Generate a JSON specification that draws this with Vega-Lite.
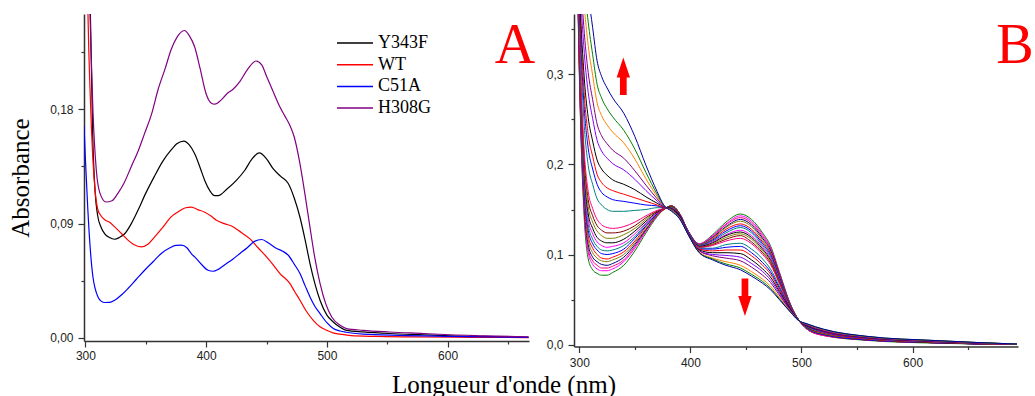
{
"$schema": "https://vega.github.io/schema/vega-lite/v6.json",
"padding": {"left": 8, "top": 14, "right": 0, "bottom": 0},
"bounds": "flush",
"spacing": 45,
"resolve": {"scale": {"color": "independent"}, "legend": {"color": "independent"}},
"config": {
  "view": {"stroke": null},
  "axis": {"grid": false, "labelFont": "Liberation Sans", "labelFontSize": 12, "labelColor": "#222222", "domainColor": "#333333", "domainWidth": 1.5, "tickColor": "#333333", "tickWidth": 1.2, "labelPadding": 3, "labelFlush": false, "labelOverlap": false, "titleFont": "Liberation Serif", "titleFontWeight": "normal", "titleFontSize": 25, "titleColor": "#000000"}
},
"datasets": {
"a": [
{"s":"Y343F","w":299,"a":0.6},{"s":"Y343F","w":302,"a":0.4},{"s":"Y343F","w":304,"a":0.26},{"s":"Y343F","w":306,"a":0.16},{"s":"Y343F","w":308,"a":0.115},{"s":"Y343F","w":310,"a":0.097},{"s":"Y343F","w":313,"a":0.087},{"s":"Y343F","w":316,"a":0.082},{"s":"Y343F","w":320,"a":0.079},{"s":"Y343F","w":324,"a":0.0777},{"s":"Y343F","w":328,"a":0.079},{"s":"Y343F","w":332.5,"a":0.082},{"s":"Y343F","w":338,"a":0.09},{"s":"Y343F","w":343.5,"a":0.1005},{"s":"Y343F","w":350,"a":0.114},{"s":"Y343F","w":357,"a":0.127},{"s":"Y343F","w":364,"a":0.139},{"s":"Y343F","w":371,"a":0.148},{"s":"Y343F","w":376,"a":0.153},{"s":"Y343F","w":381.5,"a":0.155},{"s":"Y343F","w":386,"a":0.152},{"s":"Y343F","w":390.5,"a":0.145},{"s":"Y343F","w":395,"a":0.134},{"s":"Y343F","w":398.8,"a":0.124},{"s":"Y343F","w":403,"a":0.116},{"s":"Y343F","w":407,"a":0.112},{"s":"Y343F","w":410,"a":0.112},{"s":"Y343F","w":417,"a":0.117},{"s":"Y343F","w":425,"a":0.124},{"s":"Y343F","w":432,"a":0.132},{"s":"Y343F","w":438,"a":0.141},{"s":"Y343F","w":444,"a":0.1457},{"s":"Y343F","w":450,"a":0.141},{"s":"Y343F","w":455.6,"a":0.133},{"s":"Y343F","w":462,"a":0.127},{"s":"Y343F","w":468,"a":0.1216},{"s":"Y343F","w":473,"a":0.11},{"s":"Y343F","w":477.7,"a":0.095},{"s":"Y343F","w":482,"a":0.077},{"s":"Y343F","w":486,"a":0.0586},{"s":"Y343F","w":490,"a":0.043},{"s":"Y343F","w":494.3,"a":0.0297},{"s":"Y343F","w":500,"a":0.018},{"s":"Y343F","w":505.3,"a":0.0126},{"s":"Y343F","w":510,"a":0.009},{"s":"Y343F","w":516.4,"a":0.006},{"s":"Y343F","w":530,"a":0.0048},{"s":"Y343F","w":552,"a":0.0035},{"s":"Y343F","w":580,"a":0.0025},{"s":"Y343F","w":602,"a":0.0017},{"s":"Y343F","w":630,"a":0.0012},{"s":"Y343F","w":667,"a":0.0005},
{"s":"WT","w":299,"a":0.5},{"s":"WT","w":301,"a":0.33},{"s":"WT","w":302,"a":0.26},{"s":"WT","w":304,"a":0.19},{"s":"WT","w":306.2,"a":0.14},{"s":"WT","w":308,"a":0.116},{"s":"WT","w":310.4,"a":0.1005},{"s":"WT","w":313,"a":0.096},{"s":"WT","w":316,"a":0.093},{"s":"WT","w":320,"a":0.091},{"s":"WT","w":324.2,"a":0.0874},{"s":"WT","w":330,"a":0.082},{"s":"WT","w":335.2,"a":0.077},{"s":"WT","w":340,"a":0.0735},{"s":"WT","w":346.2,"a":0.0717},{"s":"WT","w":352,"a":0.074},{"s":"WT","w":357.3,"a":0.0795},{"s":"WT","w":364,"a":0.087},{"s":"WT","w":371,"a":0.0953},{"s":"WT","w":378,"a":0.1},{"s":"WT","w":383,"a":0.1025},{"s":"WT","w":387.7,"a":0.103},{"s":"WT","w":393,"a":0.101},{"s":"WT","w":398.8,"a":0.099},{"s":"WT","w":404,"a":0.096},{"s":"WT","w":408.5,"a":0.0927},{"s":"WT","w":415,"a":0.09},{"s":"WT","w":422.5,"a":0.0874},{"s":"WT","w":429,"a":0.083},{"s":"WT","w":436.3,"a":0.078},{"s":"WT","w":443,"a":0.071},{"s":"WT","w":450,"a":0.0638},{"s":"WT","w":456,"a":0.057},{"s":"WT","w":461.1,"a":0.0507},{"s":"WT","w":469.4,"a":0.0428},{"s":"WT","w":473,"a":0.037},{"s":"WT","w":477.7,"a":0.0297},{"s":"WT","w":483,"a":0.021},{"s":"WT","w":488.7,"a":0.0139},{"s":"WT","w":494,"a":0.009},{"s":"WT","w":499.8,"a":0.006},{"s":"WT","w":505,"a":0.004},{"s":"WT","w":510.9,"a":0.003},{"s":"WT","w":520,"a":0.0018},{"s":"WT","w":540,"a":0.0012},{"s":"WT","w":570,"a":0.0008},{"s":"WT","w":620,"a":0.0005},{"s":"WT","w":667,"a":0.0003},
{"s":"C51A","w":298.8,"a":0.167},{"s":"C51A","w":300,"a":0.14},{"s":"C51A","w":302,"a":0.1005},{"s":"C51A","w":304,"a":0.07},{"s":"C51A","w":306.2,"a":0.048},{"s":"C51A","w":308,"a":0.039},{"s":"C51A","w":310.4,"a":0.0323},{"s":"C51A","w":313,"a":0.029},{"s":"C51A","w":316,"a":0.0279},{"s":"C51A","w":320,"a":0.028},{"s":"C51A","w":324.2,"a":0.0297},{"s":"C51A","w":330,"a":0.034},{"s":"C51A","w":335.2,"a":0.0389},{"s":"C51A","w":342,"a":0.046},{"s":"C51A","w":349,"a":0.0533},{"s":"C51A","w":356,"a":0.06},{"s":"C51A","w":362.8,"a":0.0665},{"s":"C51A","w":370,"a":0.071},{"s":"C51A","w":375,"a":0.0728},{"s":"C51A","w":379.4,"a":0.073},{"s":"C51A","w":384,"a":0.071},{"s":"C51A","w":388,"a":0.066},{"s":"C51A","w":390.5,"a":0.0638},{"s":"C51A","w":396,"a":0.058},{"s":"C51A","w":401.5,"a":0.0533},{"s":"C51A","w":405.9,"a":0.0525},{"s":"C51A","w":410,"a":0.054},{"s":"C51A","w":416,"a":0.058},{"s":"C51A","w":422,"a":0.062},{"s":"C51A","w":428,"a":0.0665},{"s":"C51A","w":434,"a":0.071},{"s":"C51A","w":440,"a":0.076},{"s":"C51A","w":446,"a":0.0775},{"s":"C51A","w":452,"a":0.0745},{"s":"C51A","w":458.4,"a":0.0704},{"s":"C51A","w":463,"a":0.0685},{"s":"C51A","w":468,"a":0.0651},{"s":"C51A","w":473,"a":0.058},{"s":"C51A","w":477.7,"a":0.0507},{"s":"C51A","w":482,"a":0.041},{"s":"C51A","w":486,"a":0.0323},{"s":"C51A","w":490,"a":0.025},{"s":"C51A","w":494.3,"a":0.0192},{"s":"C51A","w":500,"a":0.012},{"s":"C51A","w":505.3,"a":0.0074},{"s":"C51A","w":511,"a":0.0055},{"s":"C51A","w":516,"a":0.0045},{"s":"C51A","w":530,"a":0.003},{"s":"C51A","w":560,"a":0.002},{"s":"C51A","w":600,"a":0.0013},{"s":"C51A","w":667,"a":0.0005},
{"s":"H308G","w":299,"a":0.7},{"s":"H308G","w":302,"a":0.4},{"s":"H308G","w":303,"a":0.3},{"s":"H308G","w":304.5,"a":0.23},{"s":"H308G","w":306.2,"a":0.179},{"s":"H308G","w":309,"a":0.132},{"s":"H308G","w":312,"a":0.114},{"s":"H308G","w":317,"a":0.107},{"s":"H308G","w":322,"a":0.108},{"s":"H308G","w":327,"a":0.114},{"s":"H308G","w":332,"a":0.122},{"s":"H308G","w":338,"a":0.135},{"s":"H308G","w":344,"a":0.148},{"s":"H308G","w":349,"a":0.161},{"s":"H308G","w":355,"a":0.177},{"s":"H308G","w":360,"a":0.195},{"s":"H308G","w":366,"a":0.212},{"s":"H308G","w":371,"a":0.227},{"s":"H308G","w":376,"a":0.237},{"s":"H308G","w":382,"a":0.242},{"s":"H308G","w":386,"a":0.238},{"s":"H308G","w":390.5,"a":0.229},{"s":"H308G","w":395,"a":0.212},{"s":"H308G","w":400,"a":0.192},{"s":"H308G","w":404,"a":0.185},{"s":"H308G","w":407.3,"a":0.184},{"s":"H308G","w":412,"a":0.187},{"s":"H308G","w":417,"a":0.192},{"s":"H308G","w":422.5,"a":0.196},{"s":"H308G","w":428,"a":0.202},{"s":"H308G","w":434,"a":0.211},{"s":"H308G","w":441.3,"a":0.218},{"s":"H308G","w":446,"a":0.215},{"s":"H308G","w":450,"a":0.206},{"s":"H308G","w":455,"a":0.195},{"s":"H308G","w":461,"a":0.182},{"s":"H308G","w":465,"a":0.175},{"s":"H308G","w":469,"a":0.168},{"s":"H308G","w":473,"a":0.158},{"s":"H308G","w":477.7,"a":0.137},{"s":"H308G","w":482,"a":0.112},{"s":"H308G","w":486,"a":0.087},{"s":"H308G","w":490,"a":0.063},{"s":"H308G","w":494.3,"a":0.043},{"s":"H308G","w":499,"a":0.027},{"s":"H308G","w":504,"a":0.0165},{"s":"H308G","w":511,"a":0.01},{"s":"H308G","w":516.4,"a":0.0074},{"s":"H308G","w":530,"a":0.006},{"s":"H308G","w":552,"a":0.0047},{"s":"H308G","w":580,"a":0.0035},{"s":"H308G","w":602,"a":0.0025},{"s":"H308G","w":630,"a":0.0017},{"s":"H308G","w":667,"a":0.0008}
],
"b": [
{"k":1,"w":296,"a":0.6},{"k":1,"w":300,"a":0.3},{"k":1,"w":304,"a":0.15},{"k":1,"w":308,"a":0.095},{"k":1,"w":312,"a":0.083},{"k":1,"w":316,"a":0.079},{"k":1,"w":320,"a":0.077},{"k":1,"w":325,"a":0.077},{"k":1,"w":330,"a":0.08},{"k":1,"w":340,"a":0.088},{"k":1,"w":350,"a":0.104},{"k":1,"w":360,"a":0.124},{"k":1,"w":370,"a":0.142},{"k":1,"w":376,"a":0.15},{"k":1,"w":383,"a":0.154},{"k":1,"w":390,"a":0.146},{"k":1,"w":398,"a":0.126},{"k":1,"w":408,"a":0.112},{"k":1,"w":420,"a":0.122},{"k":1,"w":432,"a":0.136},{"k":1,"w":445,"a":0.145},{"k":1,"w":455,"a":0.139},{"k":1,"w":465,"a":0.124},{"k":1,"w":472,"a":0.11},{"k":1,"w":480,"a":0.081},{"k":1,"w":490,"a":0.045},{"k":1,"w":497,"a":0.028},{"k":1,"w":505,"a":0.017},{"k":1,"w":520,"a":0.01},{"k":1,"w":560,"a":0.0045},{"k":1,"w":620,"a":0.0015},{"k":1,"w":694,"a":0},
{"k":2,"w":296,"a":0.601},{"k":2,"w":300,"a":0.304},{"k":2,"w":304,"a":0.156},{"k":2,"w":308,"a":0.102},{"k":2,"w":312,"a":0.089},{"k":2,"w":316,"a":0.084},{"k":2,"w":320,"a":0.082},{"k":2,"w":325,"a":0.082},{"k":2,"w":330,"a":0.084},{"k":2,"w":340,"a":0.092},{"k":2,"w":350,"a":0.107},{"k":2,"w":360,"a":0.126},{"k":2,"w":370,"a":0.143},{"k":2,"w":376,"a":0.15},{"k":2,"w":383,"a":0.154},{"k":2,"w":390,"a":0.146},{"k":2,"w":398,"a":0.126},{"k":2,"w":408,"a":0.112},{"k":2,"w":420,"a":0.121},{"k":2,"w":432,"a":0.134},{"k":2,"w":445,"a":0.143},{"k":2,"w":455,"a":0.137},{"k":2,"w":465,"a":0.122},{"k":2,"w":472,"a":0.108},{"k":2,"w":480,"a":0.08},{"k":2,"w":490,"a":0.045},{"k":2,"w":497,"a":0.028},{"k":2,"w":505,"a":0.017},{"k":2,"w":520,"a":0.01},{"k":2,"w":560,"a":0.005},{"k":2,"w":620,"a":0.002},{"k":2,"w":694,"a":0},
{"k":3,"w":296,"a":0.602},{"k":3,"w":300,"a":0.307},{"k":3,"w":304,"a":0.161},{"k":3,"w":308,"a":0.106},{"k":3,"w":312,"a":0.093},{"k":3,"w":316,"a":0.088},{"k":3,"w":320,"a":0.085},{"k":3,"w":325,"a":0.085},{"k":3,"w":330,"a":0.087},{"k":3,"w":340,"a":0.094},{"k":3,"w":350,"a":0.109},{"k":3,"w":360,"a":0.127},{"k":3,"w":370,"a":0.143},{"k":3,"w":376,"a":0.15},{"k":3,"w":383,"a":0.154},{"k":3,"w":390,"a":0.146},{"k":3,"w":398,"a":0.126},{"k":3,"w":408,"a":0.111},{"k":3,"w":420,"a":0.12},{"k":3,"w":432,"a":0.133},{"k":3,"w":445,"a":0.141},{"k":3,"w":455,"a":0.135},{"k":3,"w":465,"a":0.12},{"k":3,"w":472,"a":0.107},{"k":3,"w":480,"a":0.079},{"k":3,"w":490,"a":0.044},{"k":3,"w":497,"a":0.028},{"k":3,"w":505,"a":0.017},{"k":3,"w":520,"a":0.01},{"k":3,"w":560,"a":0.005},{"k":3,"w":620,"a":0.002},{"k":3,"w":694,"a":0},
{"k":4,"w":296,"a":0.603},{"k":4,"w":300,"a":0.311},{"k":4,"w":304,"a":0.165},{"k":4,"w":308,"a":0.111},{"k":4,"w":312,"a":0.097},{"k":4,"w":316,"a":0.092},{"k":4,"w":320,"a":0.089},{"k":4,"w":325,"a":0.088},{"k":4,"w":330,"a":0.09},{"k":4,"w":340,"a":0.097},{"k":4,"w":350,"a":0.111},{"k":4,"w":360,"a":0.128},{"k":4,"w":370,"a":0.144},{"k":4,"w":376,"a":0.15},{"k":4,"w":383,"a":0.154},{"k":4,"w":390,"a":0.146},{"k":4,"w":398,"a":0.126},{"k":4,"w":408,"a":0.111},{"k":4,"w":420,"a":0.119},{"k":4,"w":432,"a":0.131},{"k":4,"w":445,"a":0.139},{"k":4,"w":455,"a":0.133},{"k":4,"w":465,"a":0.118},{"k":4,"w":472,"a":0.105},{"k":4,"w":480,"a":0.078},{"k":4,"w":490,"a":0.044},{"k":4,"w":497,"a":0.028},{"k":4,"w":505,"a":0.018},{"k":4,"w":520,"a":0.011},{"k":4,"w":560,"a":0.005},{"k":4,"w":620,"a":0.002},{"k":4,"w":694,"a":0},
{"k":5,"w":296,"a":0.604},{"k":5,"w":300,"a":0.314},{"k":5,"w":304,"a":0.171},{"k":5,"w":308,"a":0.116},{"k":5,"w":312,"a":0.102},{"k":5,"w":316,"a":0.096},{"k":5,"w":320,"a":0.093},{"k":5,"w":325,"a":0.092},{"k":5,"w":330,"a":0.094},{"k":5,"w":340,"a":0.1},{"k":5,"w":350,"a":0.113},{"k":5,"w":360,"a":0.129},{"k":5,"w":370,"a":0.144},{"k":5,"w":376,"a":0.15},{"k":5,"w":383,"a":0.154},{"k":5,"w":390,"a":0.146},{"k":5,"w":398,"a":0.125},{"k":5,"w":408,"a":0.111},{"k":5,"w":420,"a":0.118},{"k":5,"w":432,"a":0.13},{"k":5,"w":445,"a":0.137},{"k":5,"w":455,"a":0.131},{"k":5,"w":465,"a":0.116},{"k":5,"w":472,"a":0.103},{"k":5,"w":480,"a":0.077},{"k":5,"w":490,"a":0.044},{"k":5,"w":497,"a":0.028},{"k":5,"w":505,"a":0.018},{"k":5,"w":520,"a":0.011},{"k":5,"w":560,"a":0.005},{"k":5,"w":620,"a":0.002},{"k":5,"w":694,"a":0},
{"k":6,"w":296,"a":0.604},{"k":6,"w":300,"a":0.318},{"k":6,"w":304,"a":0.176},{"k":6,"w":308,"a":0.121},{"k":6,"w":312,"a":0.107},{"k":6,"w":316,"a":0.1},{"k":6,"w":320,"a":0.096},{"k":6,"w":325,"a":0.095},{"k":6,"w":330,"a":0.097},{"k":6,"w":340,"a":0.103},{"k":6,"w":350,"a":0.115},{"k":6,"w":360,"a":0.131},{"k":6,"w":370,"a":0.145},{"k":6,"w":376,"a":0.15},{"k":6,"w":383,"a":0.153},{"k":6,"w":390,"a":0.145},{"k":6,"w":398,"a":0.125},{"k":6,"w":408,"a":0.11},{"k":6,"w":420,"a":0.117},{"k":6,"w":432,"a":0.128},{"k":6,"w":445,"a":0.134},{"k":6,"w":455,"a":0.128},{"k":6,"w":465,"a":0.114},{"k":6,"w":472,"a":0.102},{"k":6,"w":480,"a":0.076},{"k":6,"w":490,"a":0.043},{"k":6,"w":497,"a":0.028},{"k":6,"w":505,"a":0.018},{"k":6,"w":520,"a":0.011},{"k":6,"w":560,"a":0.005},{"k":6,"w":620,"a":0.002},{"k":6,"w":694,"a":0},
{"k":7,"w":296,"a":0.605},{"k":7,"w":300,"a":0.322},{"k":7,"w":304,"a":0.181},{"k":7,"w":308,"a":0.127},{"k":7,"w":312,"a":0.112},{"k":7,"w":316,"a":0.105},{"k":7,"w":320,"a":0.101},{"k":7,"w":325,"a":0.1},{"k":7,"w":330,"a":0.101},{"k":7,"w":340,"a":0.106},{"k":7,"w":350,"a":0.118},{"k":7,"w":360,"a":0.132},{"k":7,"w":370,"a":0.145},{"k":7,"w":376,"a":0.151},{"k":7,"w":383,"a":0.153},{"k":7,"w":390,"a":0.145},{"k":7,"w":398,"a":0.125},{"k":7,"w":408,"a":0.11},{"k":7,"w":420,"a":0.116},{"k":7,"w":432,"a":0.126},{"k":7,"w":445,"a":0.132},{"k":7,"w":455,"a":0.126},{"k":7,"w":465,"a":0.112},{"k":7,"w":472,"a":0.1},{"k":7,"w":480,"a":0.075},{"k":7,"w":490,"a":0.043},{"k":7,"w":497,"a":0.028},{"k":7,"w":505,"a":0.018},{"k":7,"w":520,"a":0.011},{"k":7,"w":560,"a":0.005},{"k":7,"w":620,"a":0.002},{"k":7,"w":694,"a":0},
{"k":8,"w":296,"a":0.606},{"k":8,"w":300,"a":0.326},{"k":8,"w":304,"a":0.187},{"k":8,"w":308,"a":0.133},{"k":8,"w":312,"a":0.117},{"k":8,"w":316,"a":0.109},{"k":8,"w":320,"a":0.105},{"k":8,"w":325,"a":0.104},{"k":8,"w":330,"a":0.105},{"k":8,"w":340,"a":0.11},{"k":8,"w":350,"a":0.12},{"k":8,"w":360,"a":0.134},{"k":8,"w":370,"a":0.146},{"k":8,"w":376,"a":0.151},{"k":8,"w":383,"a":0.153},{"k":8,"w":390,"a":0.145},{"k":8,"w":398,"a":0.125},{"k":8,"w":408,"a":0.11},{"k":8,"w":420,"a":0.115},{"k":8,"w":432,"a":0.124},{"k":8,"w":445,"a":0.13},{"k":8,"w":455,"a":0.124},{"k":8,"w":465,"a":0.11},{"k":8,"w":472,"a":0.098},{"k":8,"w":480,"a":0.073},{"k":8,"w":490,"a":0.043},{"k":8,"w":497,"a":0.028},{"k":8,"w":505,"a":0.018},{"k":8,"w":520,"a":0.012},{"k":8,"w":560,"a":0.006},{"k":8,"w":620,"a":0.002},{"k":8,"w":694,"a":0},
{"k":9,"w":296,"a":0.608},{"k":9,"w":300,"a":0.33},{"k":9,"w":304,"a":0.194},{"k":9,"w":308,"a":0.139},{"k":9,"w":312,"a":0.123},{"k":9,"w":316,"a":0.114},{"k":9,"w":320,"a":0.11},{"k":9,"w":325,"a":0.108},{"k":9,"w":330,"a":0.109},{"k":9,"w":340,"a":0.113},{"k":9,"w":350,"a":0.123},{"k":9,"w":360,"a":0.135},{"k":9,"w":370,"a":0.146},{"k":9,"w":376,"a":0.151},{"k":9,"w":383,"a":0.153},{"k":9,"w":390,"a":0.145},{"k":9,"w":398,"a":0.125},{"k":9,"w":408,"a":0.109},{"k":9,"w":420,"a":0.114},{"k":9,"w":432,"a":0.122},{"k":9,"w":445,"a":0.127},{"k":9,"w":455,"a":0.121},{"k":9,"w":465,"a":0.108},{"k":9,"w":472,"a":0.096},{"k":9,"w":480,"a":0.072},{"k":9,"w":490,"a":0.042},{"k":9,"w":497,"a":0.028},{"k":9,"w":505,"a":0.019},{"k":9,"w":520,"a":0.012},{"k":9,"w":560,"a":0.006},{"k":9,"w":620,"a":0.002},{"k":9,"w":694,"a":0},
{"k":10,"w":296,"a":0.609},{"k":10,"w":300,"a":0.334},{"k":10,"w":304,"a":0.2},{"k":10,"w":308,"a":0.145},{"k":10,"w":312,"a":0.129},{"k":10,"w":316,"a":0.119},{"k":10,"w":320,"a":0.115},{"k":10,"w":325,"a":0.113},{"k":10,"w":330,"a":0.113},{"k":10,"w":340,"a":0.117},{"k":10,"w":350,"a":0.126},{"k":10,"w":360,"a":0.137},{"k":10,"w":370,"a":0.147},{"k":10,"w":376,"a":0.151},{"k":10,"w":383,"a":0.153},{"k":10,"w":390,"a":0.145},{"k":10,"w":398,"a":0.125},{"k":10,"w":408,"a":0.109},{"k":10,"w":420,"a":0.113},{"k":10,"w":432,"a":0.121},{"k":10,"w":445,"a":0.125},{"k":10,"w":455,"a":0.119},{"k":10,"w":465,"a":0.106},{"k":10,"w":472,"a":0.094},{"k":10,"w":480,"a":0.071},{"k":10,"w":490,"a":0.042},{"k":10,"w":497,"a":0.028},{"k":10,"w":505,"a":0.019},{"k":10,"w":520,"a":0.012},{"k":10,"w":560,"a":0.006},{"k":10,"w":620,"a":0.002},{"k":10,"w":694,"a":0},
{"k":11,"w":296,"a":0.61},{"k":11,"w":300,"a":0.34},{"k":11,"w":304,"a":0.207},{"k":11,"w":308,"a":0.153},{"k":11,"w":312,"a":0.136},{"k":11,"w":316,"a":0.126},{"k":11,"w":320,"a":0.121},{"k":11,"w":325,"a":0.118},{"k":11,"w":330,"a":0.118},{"k":11,"w":340,"a":0.122},{"k":11,"w":350,"a":0.129},{"k":11,"w":360,"a":0.139},{"k":11,"w":370,"a":0.148},{"k":11,"w":376,"a":0.151},{"k":11,"w":383,"a":0.153},{"k":11,"w":390,"a":0.145},{"k":11,"w":398,"a":0.125},{"k":11,"w":408,"a":0.108},{"k":11,"w":420,"a":0.112},{"k":11,"w":432,"a":0.119},{"k":11,"w":445,"a":0.123},{"k":11,"w":455,"a":0.117},{"k":11,"w":465,"a":0.104},{"k":11,"w":472,"a":0.093},{"k":11,"w":480,"a":0.07},{"k":11,"w":490,"a":0.042},{"k":11,"w":497,"a":0.028},{"k":11,"w":505,"a":0.019},{"k":11,"w":520,"a":0.012},{"k":11,"w":560,"a":0.006},{"k":11,"w":620,"a":0.0026},{"k":11,"w":694,"a":0},
{"k":12,"w":296,"a":0.611},{"k":12,"w":300,"a":0.345},{"k":12,"w":304,"a":0.215},{"k":12,"w":308,"a":0.161},{"k":12,"w":312,"a":0.143},{"k":12,"w":316,"a":0.132},{"k":12,"w":320,"a":0.127},{"k":12,"w":325,"a":0.124},{"k":12,"w":330,"a":0.124},{"k":12,"w":340,"a":0.126},{"k":12,"w":350,"a":0.132},{"k":12,"w":360,"a":0.141},{"k":12,"w":370,"a":0.148},{"k":12,"w":376,"a":0.151},{"k":12,"w":383,"a":0.153},{"k":12,"w":390,"a":0.145},{"k":12,"w":398,"a":0.124},{"k":12,"w":408,"a":0.108},{"k":12,"w":420,"a":0.111},{"k":12,"w":432,"a":0.117},{"k":12,"w":445,"a":0.121},{"k":12,"w":455,"a":0.114},{"k":12,"w":465,"a":0.102},{"k":12,"w":472,"a":0.091},{"k":12,"w":480,"a":0.069},{"k":12,"w":490,"a":0.042},{"k":12,"w":497,"a":0.028},{"k":12,"w":505,"a":0.019},{"k":12,"w":520,"a":0.013},{"k":12,"w":560,"a":0.006},{"k":12,"w":620,"a":0.0027},{"k":12,"w":694,"a":0},
{"k":13,"w":296,"a":0.613},{"k":13,"w":300,"a":0.351},{"k":13,"w":304,"a":0.223},{"k":13,"w":308,"a":0.17},{"k":13,"w":312,"a":0.151},{"k":13,"w":316,"a":0.139},{"k":13,"w":320,"a":0.133},{"k":13,"w":325,"a":0.13},{"k":13,"w":330,"a":0.129},{"k":13,"w":340,"a":0.131},{"k":13,"w":350,"a":0.136},{"k":13,"w":360,"a":0.143},{"k":13,"w":370,"a":0.149},{"k":13,"w":376,"a":0.151},{"k":13,"w":383,"a":0.152},{"k":13,"w":390,"a":0.144},{"k":13,"w":398,"a":0.124},{"k":13,"w":408,"a":0.108},{"k":13,"w":420,"a":0.11},{"k":13,"w":432,"a":0.115},{"k":13,"w":445,"a":0.118},{"k":13,"w":455,"a":0.112},{"k":13,"w":465,"a":0.1},{"k":13,"w":472,"a":0.089},{"k":13,"w":480,"a":0.068},{"k":13,"w":490,"a":0.041},{"k":13,"w":497,"a":0.028},{"k":13,"w":505,"a":0.02},{"k":13,"w":520,"a":0.013},{"k":13,"w":560,"a":0.0064},{"k":13,"w":620,"a":0.0028},{"k":13,"w":694,"a":0},
{"k":14,"w":296,"a":0.618},{"k":14,"w":300,"a":0.37},{"k":14,"w":304,"a":0.252},{"k":14,"w":308,"a":0.199},{"k":14,"w":312,"a":0.178},{"k":14,"w":316,"a":0.162},{"k":14,"w":320,"a":0.155},{"k":14,"w":325,"a":0.15},{"k":14,"w":330,"a":0.148},{"k":14,"w":340,"a":0.148},{"k":14,"w":350,"a":0.149},{"k":14,"w":360,"a":0.15},{"k":14,"w":370,"a":0.152},{"k":14,"w":376,"a":0.152},{"k":14,"w":383,"a":0.152},{"k":14,"w":390,"a":0.144},{"k":14,"w":398,"a":0.124},{"k":14,"w":408,"a":0.107},{"k":14,"w":420,"a":0.107},{"k":14,"w":432,"a":0.111},{"k":14,"w":445,"a":0.1125},{"k":14,"w":455,"a":0.106},{"k":14,"w":465,"a":0.095},{"k":14,"w":472,"a":0.084},{"k":14,"w":480,"a":0.065},{"k":14,"w":490,"a":0.04},{"k":14,"w":497,"a":0.028},{"k":14,"w":505,"a":0.02},{"k":14,"w":520,"a":0.0137},{"k":14,"w":560,"a":0.0069},{"k":14,"w":620,"a":0.003},{"k":14,"w":694,"a":0.0003},
{"k":15,"w":296,"a":0.621},{"k":15,"w":300,"a":0.384},{"k":15,"w":304,"a":0.271},{"k":15,"w":308,"a":0.218},{"k":15,"w":312,"a":0.195},{"k":15,"w":316,"a":0.178},{"k":15,"w":320,"a":0.169},{"k":15,"w":325,"a":0.164},{"k":15,"w":330,"a":0.161},{"k":15,"w":340,"a":0.159},{"k":15,"w":350,"a":0.157},{"k":15,"w":360,"a":0.155},{"k":15,"w":370,"a":0.154},{"k":15,"w":376,"a":0.152},{"k":15,"w":383,"a":0.151},{"k":15,"w":390,"a":0.144},{"k":15,"w":398,"a":0.124},{"k":15,"w":408,"a":0.106},{"k":15,"w":420,"a":0.106},{"k":15,"w":432,"a":0.108},{"k":15,"w":445,"a":0.109},{"k":15,"w":455,"a":0.102},{"k":15,"w":465,"a":0.091},{"k":15,"w":472,"a":0.081},{"k":15,"w":480,"a":0.063},{"k":15,"w":490,"a":0.04},{"k":15,"w":497,"a":0.027},{"k":15,"w":505,"a":0.0205},{"k":15,"w":520,"a":0.014},{"k":15,"w":560,"a":0.007},{"k":15,"w":620,"a":0.0033},{"k":15,"w":694,"a":0.0003},
{"k":16,"w":296,"a":0.623},{"k":16,"w":300,"a":0.394},{"k":16,"w":304,"a":0.286},{"k":16,"w":308,"a":0.233},{"k":16,"w":312,"a":0.209},{"k":16,"w":316,"a":0.189},{"k":16,"w":320,"a":0.18},{"k":16,"w":325,"a":0.174},{"k":16,"w":330,"a":0.171},{"k":16,"w":340,"a":0.167},{"k":16,"w":350,"a":0.163},{"k":16,"w":360,"a":0.159},{"k":16,"w":370,"a":0.155},{"k":16,"w":376,"a":0.152},{"k":16,"w":383,"a":0.151},{"k":16,"w":390,"a":0.143},{"k":16,"w":398,"a":0.123},{"k":16,"w":408,"a":0.106},{"k":16,"w":420,"a":0.104},{"k":16,"w":432,"a":0.105},{"k":16,"w":445,"a":0.105},{"k":16,"w":455,"a":0.0985},{"k":16,"w":465,"a":0.088},{"k":16,"w":472,"a":0.0785},{"k":16,"w":480,"a":0.061},{"k":16,"w":490,"a":0.039},{"k":16,"w":497,"a":0.027},{"k":16,"w":505,"a":0.021},{"k":16,"w":520,"a":0.0145},{"k":16,"w":560,"a":0.0074},{"k":16,"w":620,"a":0.0034},{"k":16,"w":694,"a":0.0003},
{"k":17,"w":296,"a":0.627},{"k":17,"w":300,"a":0.406},{"k":17,"w":304,"a":0.304},{"k":17,"w":308,"a":0.252},{"k":17,"w":312,"a":0.226},{"k":17,"w":316,"a":0.205},{"k":17,"w":320,"a":0.195},{"k":17,"w":325,"a":0.188},{"k":17,"w":330,"a":0.183},{"k":17,"w":340,"a":0.178},{"k":17,"w":350,"a":0.172},{"k":17,"w":360,"a":0.164},{"k":17,"w":370,"a":0.157},{"k":17,"w":376,"a":0.153},{"k":17,"w":383,"a":0.151},{"k":17,"w":390,"a":0.143},{"k":17,"w":398,"a":0.123},{"k":17,"w":408,"a":0.105},{"k":17,"w":420,"a":0.102},{"k":17,"w":432,"a":0.102},{"k":17,"w":445,"a":0.101},{"k":17,"w":455,"a":0.094},{"k":17,"w":465,"a":0.084},{"k":17,"w":472,"a":0.075},{"k":17,"w":480,"a":0.059},{"k":17,"w":490,"a":0.039},{"k":17,"w":497,"a":0.027},{"k":17,"w":505,"a":0.021},{"k":17,"w":520,"a":0.015},{"k":17,"w":560,"a":0.0077},{"k":17,"w":620,"a":0.0036},{"k":17,"w":694,"a":0.0004},
{"k":18,"w":296,"a":0.631},{"k":18,"w":300,"a":0.425},{"k":18,"w":304,"a":0.332},{"k":18,"w":308,"a":0.28},{"k":18,"w":312,"a":0.251},{"k":18,"w":316,"a":0.227},{"k":18,"w":320,"a":0.215},{"k":18,"w":325,"a":0.207},{"k":18,"w":330,"a":0.201},{"k":18,"w":340,"a":0.194},{"k":18,"w":350,"a":0.1835},{"k":18,"w":360,"a":0.171},{"k":18,"w":370,"a":0.1595},{"k":18,"w":376,"a":0.153},{"k":18,"w":383,"a":0.15},{"k":18,"w":390,"a":0.142},{"k":18,"w":398,"a":0.123},{"k":18,"w":408,"a":0.104},{"k":18,"w":420,"a":0.1},{"k":18,"w":432,"a":0.099},{"k":18,"w":445,"a":0.097},{"k":18,"w":455,"a":0.09},{"k":18,"w":465,"a":0.081},{"k":18,"w":472,"a":0.072},{"k":18,"w":480,"a":0.057},{"k":18,"w":490,"a":0.038},{"k":18,"w":497,"a":0.027},{"k":18,"w":505,"a":0.0216},{"k":18,"w":520,"a":0.0154},{"k":18,"w":560,"a":0.008},{"k":18,"w":620,"a":0.0038},{"k":18,"w":694,"a":0.0004},
{"k":19,"w":296,"a":0.635},{"k":19,"w":300,"a":0.441},{"k":19,"w":304,"a":0.354},{"k":19,"w":308,"a":0.302},{"k":19,"w":312,"a":0.272},{"k":19,"w":316,"a":0.245},{"k":19,"w":320,"a":0.232},{"k":19,"w":325,"a":0.223},{"k":19,"w":330,"a":0.216},{"k":19,"w":340,"a":0.207},{"k":19,"w":350,"a":0.193},{"k":19,"w":360,"a":0.177},{"k":19,"w":370,"a":0.162},{"k":19,"w":376,"a":0.1535},{"k":19,"w":383,"a":0.15},{"k":19,"w":390,"a":0.142},{"k":19,"w":398,"a":0.123},{"k":19,"w":408,"a":0.104},{"k":19,"w":420,"a":0.0985},{"k":19,"w":432,"a":0.096},{"k":19,"w":445,"a":0.093},{"k":19,"w":455,"a":0.086},{"k":19,"w":465,"a":0.077},{"k":19,"w":472,"a":0.069},{"k":19,"w":480,"a":0.055},{"k":19,"w":490,"a":0.0375},{"k":19,"w":497,"a":0.027},{"k":19,"w":505,"a":0.022},{"k":19,"w":520,"a":0.0159},{"k":19,"w":560,"a":0.0083},{"k":19,"w":620,"a":0.004},{"k":19,"w":694,"a":0.0004},
{"k":20,"w":296,"a":0.64},{"k":20,"w":300,"a":0.461},{"k":20,"w":304,"a":0.383},{"k":20,"w":308,"a":0.332},{"k":20,"w":312,"a":0.299},{"k":20,"w":316,"a":0.2685},{"k":20,"w":320,"a":0.2545},{"k":20,"w":325,"a":0.244},{"k":20,"w":330,"a":0.236},{"k":20,"w":340,"a":0.224},{"k":20,"w":350,"a":0.206},{"k":20,"w":360,"a":0.184},{"k":20,"w":370,"a":0.1645},{"k":20,"w":376,"a":0.154},{"k":20,"w":383,"a":0.149},{"k":20,"w":390,"a":0.141},{"k":20,"w":398,"a":0.122},{"k":20,"w":408,"a":0.103},{"k":20,"w":420,"a":0.096},{"k":20,"w":432,"a":0.092},{"k":20,"w":445,"a":0.088},{"k":20,"w":455,"a":0.081},{"k":20,"w":465,"a":0.0725},{"k":20,"w":472,"a":0.065},{"k":20,"w":480,"a":0.0525},{"k":20,"w":490,"a":0.037},{"k":20,"w":497,"a":0.027},{"k":20,"w":505,"a":0.0225},{"k":20,"w":520,"a":0.0164},{"k":20,"w":560,"a":0.0086},{"k":20,"w":620,"a":0.0043},{"k":20,"w":694,"a":0.0005},
{"k":21,"w":296,"a":0.645},{"k":21,"w":300,"a":0.478},{"k":21,"w":304,"a":0.408},{"k":21,"w":308,"a":0.358},{"k":21,"w":312,"a":0.322},{"k":21,"w":316,"a":0.289},{"k":21,"w":320,"a":0.274},{"k":21,"w":325,"a":0.262},{"k":21,"w":330,"a":0.253},{"k":21,"w":340,"a":0.238},{"k":21,"w":350,"a":0.217},{"k":21,"w":360,"a":0.191},{"k":21,"w":370,"a":0.167},{"k":21,"w":376,"a":0.1545},{"k":21,"w":383,"a":0.1487},{"k":21,"w":390,"a":0.1407},{"k":21,"w":398,"a":0.122},{"k":21,"w":408,"a":0.102},{"k":21,"w":420,"a":0.095},{"k":21,"w":432,"a":0.0895},{"k":21,"w":445,"a":0.085},{"k":21,"w":455,"a":0.078},{"k":21,"w":465,"a":0.07},{"k":21,"w":472,"a":0.0626},{"k":21,"w":480,"a":0.051},{"k":21,"w":490,"a":0.0363},{"k":21,"w":497,"a":0.027},{"k":21,"w":505,"a":0.0228},{"k":21,"w":520,"a":0.0168},{"k":21,"w":560,"a":0.0088},{"k":21,"w":620,"a":0.0044},{"k":21,"w":694,"a":0.0005},
{"k":22,"w":296,"a":0.65},{"k":22,"w":300,"a":0.5},{"k":22,"w":304,"a":0.44},{"k":22,"w":308,"a":0.39},{"k":22,"w":312,"a":0.352},{"k":22,"w":316,"a":0.315},{"k":22,"w":320,"a":0.298},{"k":22,"w":325,"a":0.285},{"k":22,"w":330,"a":0.274},{"k":22,"w":340,"a":0.257},{"k":22,"w":350,"a":0.231},{"k":22,"w":360,"a":0.199},{"k":22,"w":370,"a":0.17},{"k":22,"w":376,"a":0.155},{"k":22,"w":383,"a":0.148},{"k":22,"w":390,"a":0.14},{"k":22,"w":398,"a":0.122},{"k":22,"w":408,"a":0.102},{"k":22,"w":420,"a":0.094},{"k":22,"w":432,"a":0.088},{"k":22,"w":445,"a":0.083},{"k":22,"w":455,"a":0.076},{"k":22,"w":465,"a":0.068},{"k":22,"w":472,"a":0.061},{"k":22,"w":480,"a":0.05},{"k":22,"w":490,"a":0.036},{"k":22,"w":497,"a":0.027},{"k":22,"w":505,"a":0.023},{"k":22,"w":520,"a":0.017},{"k":22,"w":560,"a":0.009},{"k":22,"w":620,"a":0.0045},{"k":22,"w":694,"a":0.0005}
]
},
"hconcat": [
{
  "width": 445,
  "height": 327,
  "layer": [
    {
      "data": {"name": "a"},
      "mark": {"type": "line", "interpolate": "monotone", "clip": true, "strokeWidth": 1.2},
      "encoding": {
        "x": {"field": "w", "type": "quantitative",
              "scale": {"domain": [298.8, 667.4], "nice": false, "zero": false},
              "axis": {"values": [300,350,400,450,500,550,600,650], "format": "d",
                       "labelExpr": "datum.value % 100 == 0 ? datum.label : ''",
                       "tickSize": {"condition": {"test": "datum.value % 100 == 0", "value": 6}, "value": 3},
                       "title": "Longueur d'onde (nm)", "titleX": 419.5, "titleY": 51, "titleAlign": "center", "titleBaseline": "alphabetic", "titleAnchor": "start"}},
        "y": {"field": "a", "type": "quantitative",
              "scale": {"domain": [-0.0024, 0.255], "nice": false, "zero": false},
              "axis": {"values": [0, 0.045, 0.09, 0.135, 0.18, 0.225],
                       "labelExpr": "round(datum.value*1000) % 90 == 0 ? replace(format(datum.value, '.2f'), '.', ',') : ''",
                       "tickSize": {"condition": {"test": "round(datum.value*1000) % 90 == 0", "value": 6}, "value": 3},
                       "labelPadding": 5,
                       "title": "Absorbance", "titlePadding": 16}},
        "color": {"field": "s", "type": "nominal",
                  "scale": {"domain": ["Y343F","WT","C51A","H308G"], "range": ["#000000","#ff0000","#0000ff","#800080"]},
                  "legend": {"orient": "none", "legendX": 252, "legendY": 19, "title": null,
                             "symbolType": "stroke", "symbolSize": 1296, "symbolStrokeWidth": 1.5,
                             "labelFont": "Liberation Serif", "labelFontSize": 18, "labelColor": "#000000",
                             "clipHeight": 20, "rowPadding": 1.7, "labelOffset": 4, "padding": 0,
                             "encode": {"symbols": {"update": {"stroke": {"signal": "datum.value === 'H308G' ? '#2a7f7f' : datum.value === 'WT' ? '#ff0000' : datum.value === 'C51A' ? '#4d4dff' : '#000000'"}}}}}}
      }
    },
    {
      "data": {"values": [{}]},
      "mark": {"type": "text", "text": "A", "font": "Liberation Serif", "fontSize": 56, "color": "#ff0000", "align": "center", "baseline": "alphabetic"},
      "encoding": {"x": {"datum": 655.8}, "y": {"datum": 0.2165}}
    }
  ]
},
{
  "width": 444,
  "height": 332.5,
  "layer": [
    {
      "data": {"name": "b"},
      "mark": {"type": "line", "interpolate": "monotone", "clip": true, "strokeWidth": 1},
      "encoding": {
        "x": {"field": "w", "type": "quantitative",
              "scale": {"domain": [295.2, 694.9], "nice": false, "zero": false},
              "axis": {"values": [300,350,400,450,500,550,600,650], "format": "d",
                       "labelExpr": "datum.value % 100 == 0 ? datum.label : ''",
                       "tickSize": {"condition": {"test": "datum.value % 100 == 0", "value": 6}, "value": 3},
                       "labelPadding": 5,
                       "title": null}},
        "y": {"field": "a", "type": "quantitative",
              "scale": {"domain": [-0.0022, 0.3672], "nice": false, "zero": false},
              "axis": {"values": [0, 0.05, 0.1, 0.15, 0.2, 0.25, 0.3, 0.35],
                       "labelExpr": "round(datum.value*100) % 10 == 0 ? replace(format(datum.value, '.1f'), '.', ',') : ''",
                       "tickSize": {"condition": {"test": "round(datum.value*100) % 10 == 0", "value": 6}, "value": 3},
                       "labelPadding": 5,
                       "title": null}},
        "color": {"field": "k", "type": "ordinal",
                  "scale": {"domain": [1,2,3,4,5,6,7,8,9,10,11,12,13,14,15,16,17,18,19,20,21,22],
                            "range": ["#008000","#ff00ff","#ff0080","#000080","#808000","#ff0000","#0000ff","#008080","#ff00ff","#000000","#808000","#800000","#ff0080","#008080","#0000ff","#ff0000","#000000","#8000ff","#800080","#ff8000","#008000","#0000a0"]},
                  "legend": null}
      }
    },
    {
      "data": {"values": [{}]},
      "mark": {"type": "point", "shape": "M0,-1L0.357,0.067L0.179,0.067L0.179,1L-0.179,1L-0.179,0.067L-0.357,0.067Z", "size": 1406, "filled": true, "color": "#ff0000", "opacity": 1, "strokeWidth": 0},
      "encoding": {"x": {"datum": 339.6}, "y": {"datum": 0.298}}
    },
    {
      "data": {"values": [{}]},
      "mark": {"type": "point", "shape": "M0,1L0.357,-0.067L0.179,-0.067L0.179,-1L-0.179,-1L-0.179,-0.067L-0.357,-0.067Z", "size": 1406, "filled": true, "color": "#ff0000", "opacity": 1, "strokeWidth": 0},
      "encoding": {"x": {"datum": 449.1}, "y": {"datum": 0.0526}}
    },
    {
      "data": {"values": [{}]},
      "mark": {"type": "text", "text": "B", "font": "Liberation Serif", "fontSize": 56, "color": "#ff0000", "align": "center", "baseline": "alphabetic"},
      "encoding": {"x": {"datum": 692.2}, "y": {"datum": 0.3128}}
    }
  ]
}
]
}
